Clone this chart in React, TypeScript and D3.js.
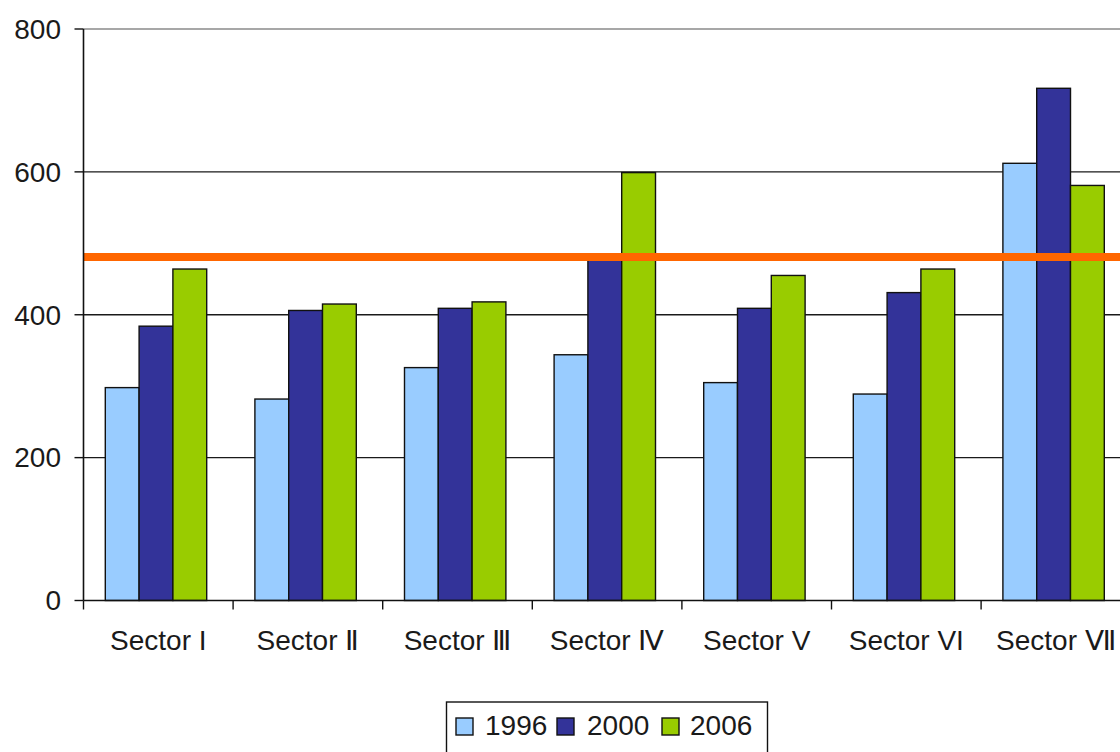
import React from "react";
import * as d3 from "d3";

const categories = ["Sector I", "Sector Ⅱ", "Sector Ⅲ", "Sector Ⅳ", "Sector V", "Sector VI", "Sector Ⅶ"];
const seriesNames = ["1996", "2000", "2006"];
const values1996 = [298, 282, 326, 344, 305, 289, 612];
const values2000 = [384, 406, 409, 480, 409, 431, 717];
const values2006 = [464, 415, 418, 599, 455, 464, 581];
const referenceValue = 481;
const yTicks = [0, 200, 400, 600, 800];
const colors = ["#99CCFF", "#333399", "#99CC00"];

const W = 1120;
const H = 752;
const FONT = "'Liberation Sans', Arial, sans-serif";

export default function App() {
  const series = [values1996, values2000, values2006];
  const step = 149.6;
  const x0 = 83.5;
  const x = d3.scaleBand<string>().domain(categories).range([x0, x0 + step * categories.length]).padding(0);
  const inner = d3.scaleBand<string>().domain(seriesNames).range([21.8, 21.8 + 3 * 33.8]).padding(0);
  const y = d3.scaleLinear().domain([0, 800]).range([600.5, 29]);
  const plotRight = x0 + step * categories.length;

  const legendItems = [
    { sx: 456, tx: 485 },
    { sx: 557, tx: 587 },
    { sx: 662, tx: 690 },
  ];

  return (
    <svg
      width={W}
      height={H}
      style={{ position: "absolute", left: 0, top: 0, background: "#fff" }}
      fontFamily={FONT}
    >
      <rect x={0} y={0} width={W} height={H} fill="#fff" />
      {/* gridlines */}
      {yTicks.filter((t) => t > 0).map((t) => (
        <line
          key={"g" + t}
          x1={x0}
          x2={plotRight}
          y1={y(t)}
          y2={y(t)}
          stroke={t === 800 ? "#8a8a8a" : "#1a1a1a"}
          strokeWidth={1.4}
        />
      ))}
      {/* bars */}
      {categories.map((c, ci) => (
        <g key={c} transform={`translate(${x(c)},0)`}>
          {seriesNames.map((s, si) => {
            const v = series[si][ci];
            return (
              <rect
                key={s}
                x={inner(s)}
                y={y(v)}
                width={inner.bandwidth()}
                height={y(0) - y(v)}
                fill={colors[si]}
                stroke="#111"
                strokeWidth={1.4}
              />
            );
          })}
        </g>
      ))}
      {/* reference line */}
      <line
        x1={x0}
        x2={plotRight}
        y1={y(referenceValue)}
        y2={y(referenceValue)}
        stroke="#FF6600"
        strokeWidth={8}
      />
      {/* y axis */}
      <line x1={x0} x2={x0} y1={y(800)} y2={y(0)} stroke="#111" strokeWidth={1.6} />
      {yTicks.map((t) => (
        <g key={"y" + t}>
          <line x1={x0 - 9} x2={x0} y1={y(t)} y2={y(t)} stroke="#111" strokeWidth={1.4} />
          <text x={61} y={y(t) + 9.8} textAnchor="end" fontSize={28} fill="#1a1a1a">
            {t}
          </text>
        </g>
      ))}
      {/* x axis */}
      <line x1={x0} x2={plotRight} y1={y(0)} y2={y(0)} stroke="#111" strokeWidth={1.6} />
      {categories.map((c, i) => (
        <line
          key={"xt" + c}
          x1={(x(c) as number)}
          x2={(x(c) as number)}
          y1={y(0)}
          y2={y(0) + 9}
          stroke="#111"
          strokeWidth={1.4}
        />
      ))}
      {categories.map((c) => (
        <text
          key={"xl" + c}
          x={(x(c) as number) + x.bandwidth() / 2}
          y={650}
          textAnchor="middle"
          fontSize={28}
          fill="#1a1a1a"
        >
          {c}
        </text>
      ))}
      {/* legend */}
      <rect x={446.5} y={702} width={321} height={70} fill="#fff" stroke="#111" strokeWidth={1.4} />
      {seriesNames.map((s, i) => (
        <g key={"lg" + s}>
          <rect
            x={legendItems[i].sx}
            y={718}
            width={17}
            height={17}
            fill={colors[i]}
            stroke="#111"
            strokeWidth={1.4}
          />
          <text x={legendItems[i].tx} y={735} fontSize={28} fill="#1a1a1a">
            {s}
          </text>
        </g>
      ))}
    </svg>
  );
}
